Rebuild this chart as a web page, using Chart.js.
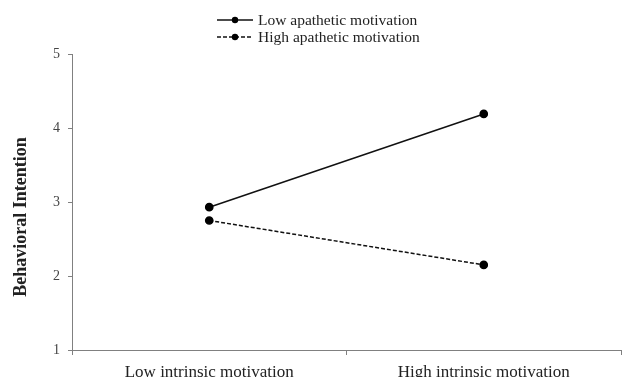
<!DOCTYPE html>
<html>
<head>
<meta charset="utf-8">
<script src="https://cdn.jsdelivr.net/npm/chart.js@4/dist/chart.umd.min.js"></script>
<style>
  html, body { margin: 0; padding: 0; background: #fff; }
  #wrap { width: 624px; height: 377px; }
</style>
</head>
<body>
<div id="wrap"><canvas id="c" width="624" height="377"></canvas></div>
<script>
const categories = ['Low intrinsic motivation', 'High intrinsic motivation'];
const seriesLabels = ['Low apathetic motivation', 'High apathetic motivation'];
const lowApathetic = [2.93, 4.19];
const highApathetic = [2.75, 2.15];
const yMin = 1, yMax = 5, yStep = 1;
const yTitle = 'Behavioral Intention';

const SERIF = "'Liberation Serif', 'Times New Roman', serif";
const AXIS_COLOR = '#808080';
const TEXT_COLOR = '#222';

const customLegend = {
  id: 'customLegend',
  afterDraw(chart) {
    const ctx = chart.ctx;
    ctx.save();
    const area = chart.chartArea;
    ctx.translate(21, (area.top + area.bottom) / 2 + 15);
    ctx.rotate(-Math.PI / 2);
    ctx.font = 'bold 18px ' + SERIF;
    ctx.fillStyle = TEXT_COLOR;
    ctx.textAlign = 'center';
    ctx.textBaseline = 'middle';
    ctx.fillText(yTitle, 0, 0);
    ctx.restore();

    ctx.save();
    const rowsY = [20, 37];
    const x0 = 217, x1 = 253, tx = 258;
    chart.data.datasets.forEach((ds, i) => {
      const y = rowsY[i];
      ctx.strokeStyle = ds.borderColor;
      ctx.lineWidth = 1.5;
      ctx.setLineDash(ds.borderDash || []);
      ctx.beginPath();
      ctx.moveTo(x0, y);
      ctx.lineTo(x1, y);
      ctx.stroke();
      ctx.setLineDash([]);
      ctx.fillStyle = ds.pointBackgroundColor;
      ctx.beginPath();
      ctx.arc((x0 + x1) / 2, y, 3.2, 0, Math.PI * 2);
      ctx.fill();
      ctx.font = '15.5px ' + SERIF;
      ctx.fillStyle = TEXT_COLOR;
      ctx.textAlign = 'left';
      ctx.textBaseline = 'middle';
      ctx.fillText(ds.label, tx, y + 1);
    });
    ctx.restore();
  }
};

new Chart(document.getElementById('c'), {
  type: 'line',
  data: {
    labels: categories,
    datasets: [
      {
        label: seriesLabels[0],
        data: lowApathetic,
        borderColor: '#111',
        backgroundColor: '#111',
        pointBackgroundColor: '#000',
        pointBorderColor: '#000',
        borderWidth: 1.5,
        pointRadius: 3.6,
        tension: 0
      },
      {
        label: seriesLabels[1],
        data: highApathetic,
        borderColor: '#111',
        backgroundColor: '#111',
        pointBackgroundColor: '#000',
        pointBorderColor: '#000',
        borderWidth: 1.5,
        borderDash: [4, 2],
        pointRadius: 3.6,
        tension: 0
      }
    ]
  },
  options: {
    responsive: false,
    animation: false,
    devicePixelRatio: 1,
    layout: { autoPadding: false, padding: { top: 54, right: 3, bottom: 0, left: 0 } },
    plugins: {
      legend: { display: false },
      tooltip: { enabled: false }
    },
    scales: {
      x: {
        type: 'category',
        offset: true,
        afterFit(scale) {
          scale.height = 27;
          scale.paddingLeft = 0;
          scale.paddingRight = 0;
        },
        grid: {
          offset: true,
          drawOnChartArea: false,
          drawTicks: true,
          tickLength: 5,
          color: AXIS_COLOR
        },
        border: { display: true, color: AXIS_COLOR, width: 1 },
        ticks: {
          padding: 7,
          color: TEXT_COLOR,
          font: { family: SERIF, size: 17 },
          maxRotation: 0
        }
      },
      y: {
        min: yMin,
        max: yMax,
        afterFit(scale) {
          scale.width = 72;
          scale.paddingTop = 0;
          scale.paddingBottom = 0;
        },
        grid: {
          drawOnChartArea: false,
          drawTicks: true,
          tickLength: 4,
          color: AXIS_COLOR
        },
        border: { display: true, color: AXIS_COLOR, width: 1 },
        ticks: {
          stepSize: yStep,
          padding: 8,
          color: '#444',
          font: { family: SERIF, size: 14 }
        }
      }
    }
  },
  plugins: [customLegend]
});
</script>
</body>
</html>
